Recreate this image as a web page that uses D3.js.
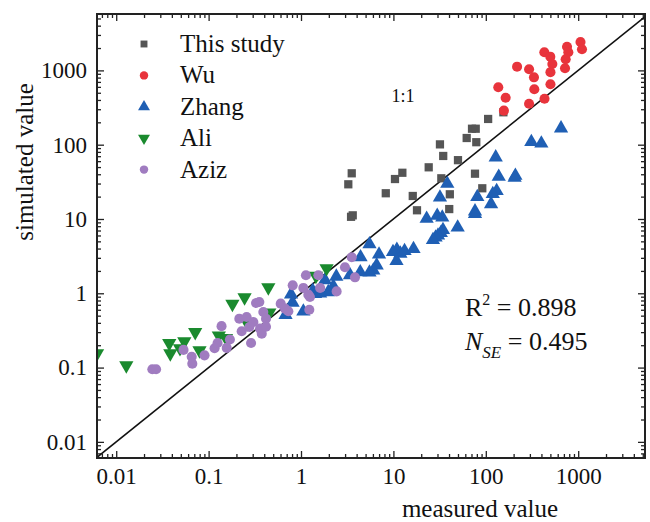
<!DOCTYPE html>
<html><head><meta charset="utf-8">
<script src="https://cdn.jsdelivr.net/npm/d3@7"></script>
<style>body{margin:0;background:#fff}svg{display:block}text{font-family:"Liberation Serif","Times New Roman",serif;fill:#111}</style>
</head><body><svg id="c" width="650" height="522"></svg>
<script>
// ---- data (measured, simulated) ----
const seriesNames = ["This study","Wu","Zhang","Ali","Aziz"];
const thisStudy = [[3.54,41.2],[3.25,29.3],[3.63,11.2],[3.48,10.7],[8.27,22.2],[10.4,34.5],[12.5,41.9],[16.2,20.4],[18.0,13.1],[24.1,49.6],[31.9,101],[34.6,70.5],[33.0,35.3],[40.8,21.5],[40.2,13.6],[50.0,61.9],[62.1,123],[70.9,164],[77.8,164],[78.9,108],[76.4,40.7],[91.6,25.9],[106,222],[155,273]];
const wu = [[136.5,593],[164,429],[157,287],[218,1122],[294,1035],[332,807],[335,557],[294,356],[430,1753],[499,1529],[525,1219],[501,946],[501,650],[432,415],[757,2078],[782,1753],[732,1410],[720,1067],[1059,2411],[1099,1923]];
const zhang = [[652,166],[311,109],[399,104],[128,67.7],[138,37.1],[209,38.3],[205,36.0],[131,23.8],[119,21.7],[114,15.9],[80.9,19.8],[76.4,12.7],[76.4,11.7],[38.3,29.8],[31.9,19.5],[29.8,11.1],[33.8,10.5],[22.9,10.1],[49.6,7.69],[34.4,7.11],[32.6,6.48],[30.4,6.0],[28.6,5.64],[26.8,5.22],[5.51,4.58],[4.41,3.06],[6.99,3.33],[9.9,3.60],[10.9,3.86],[11.9,3.43],[13.2,3.71],[16.5,3.95],[10.8,2.72],[6.59,2.38],[6.06,2.03],[5.51,1.91],[4.38,1.92],[3.39,1.76],[2.41,1.68],[1.82,1.50],[1.97,1.04],[1.61,1.0],[0.78,0.97],[0.81,0.75],[1.06,0.57],[0.68,0.51],[1.34,1.08],[1.42,0.98],[2.24,1.24]];
const ali = [[0.0062,0.155],[0.01286,0.107],[0.0375,0.213],[0.0385,0.155],[0.0546,0.225],[0.0716,0.299],[0.0797,0.170],[0.049,0.182],[0.129,0.270],[0.154,0.250],[0.181,0.718],[0.245,0.878],[0.264,0.392],[0.443,1.20],[0.454,0.548],[1.45,1.71],[1.89,2.17]];
const aziz = [[0.0246,0.0949],[0.0270,0.0949],[0.0535,0.173],[0.0656,0.140],[0.0666,0.113],[0.0903,0.146],[0.116,0.182],[0.125,0.214],[0.138,0.361],[0.170,0.239],[0.157,0.184],[0.228,0.308],[0.215,0.455],[0.258,0.480],[0.305,0.411],[0.276,0.352],[0.288,0.214],[0.360,0.334],[0.376,0.286],[0.354,0.764],[0.326,0.740],[0.391,0.560],[0.418,0.455],[0.418,0.355],[0.603,0.725],[0.671,0.621],[0.729,0.573],[0.813,1.28],[1.13,1.75],[1.20,0.958],[1.25,0.892],[1.23,0.601],[1.06,1.18],[1.54,1.75],[1.61,1.18],[2.43,1.06],[2.99,2.24],[3.54,3.05],[3.84,1.64]];
const tickLabels = ["0.01","0.1","1","10","100","1000"];
const tickValues = [0.01,0.1,1,10,100,1000];
const statR2 = "0.898", statNSE = "0.495";

// ---- layout ----
const L = 97, R = 645, T = 14, B = 458;
const x = d3.scaleLog().domain([Math.pow(10,-2.208), Math.pow(10,3.723)]).range([L,R]);
const y = d3.scaleLog().domain([Math.pow(10,-2.217), Math.pow(10,3.759)]).range([B,T]);
const svg = d3.select("#c");

const colors = ["#555555","#e8343c","#1f5fb4","#1a8a2e","#a07cc0"];
const symbols = [d3.symbolSquare, d3.symbolCircle, d3.symbolTriangle, d3.symbolTriangle, d3.symbolCircle];
const sizes = [68, 80, 88, 88, 80];
const rot = [0,0,0,180,0];
const allSeries = [thisStudy, wu, zhang, ali, aziz];

svg.append("clipPath").attr("id","clip").append("rect").attr("x",L).attr("y",T).attr("width",R-L).attr("height",B-T);

// minor ticks
const minors = [];
for (let e=-3;e<=4;e++) for (let k=2;k<=9;k++) minors.push(k*Math.pow(10,e));
const xMin = minors.filter(v=>v>=x.domain()[0] && v<=x.domain()[1]);
const yMin = minors.filter(v=>v>=y.domain()[0] && v<=y.domain()[1]);
const fmt = v => tickLabels[tickValues.indexOf(v)] ?? "";

function axes(){
  const gB = svg.append("g").attr("transform",`translate(0,${B})`);
  gB.call(d3.axisBottom(x).tickValues(tickValues).tickFormat(fmt).tickSize(-7).tickPadding(10));
  gB.append("g").call(d3.axisBottom(x).tickValues(xMin).tickFormat("").tickSize(-4));
  const gT = svg.append("g").attr("transform",`translate(0,${T})`);
  gT.call(d3.axisTop(x).tickValues(tickValues).tickFormat("").tickSize(-7));
  gT.append("g").call(d3.axisTop(x).tickValues(xMin).tickFormat("").tickSize(-4));
  const gL = svg.append("g").attr("transform",`translate(${L},0)`);
  gL.call(d3.axisLeft(y).tickValues(tickValues).tickFormat(fmt).tickSize(-7).tickPadding(10));
  gL.append("g").call(d3.axisLeft(y).tickValues(yMin).tickFormat("").tickSize(-4));
  const gR = svg.append("g").attr("transform",`translate(${R},0)`);
  gR.call(d3.axisRight(y).tickValues(tickValues).tickFormat("").tickSize(-7));
  gR.append("g").call(d3.axisRight(y).tickValues(yMin).tickFormat("").tickSize(-4));
  svg.selectAll(".domain").remove();
  svg.selectAll(".tick line").attr("stroke","#222").attr("stroke-width",1.3);
  svg.selectAll(".tick text").style("font-size","23px").style("font-family",'"Liberation Serif",serif').attr("fill","#111");
}
axes();

// 1:1 line
svg.append("line").attr("clip-path","url(#clip)")
  .attr("x1",x(0.001)).attr("y1",y(0.001)).attr("x2",x(10000)).attr("y2",y(10000))
  .attr("stroke","#111").attr("stroke-width",1.6);

// points
const pts = svg.append("g").attr("clip-path","url(#clip)");
allSeries.forEach((s,i)=>{
  pts.selectAll(null).data(s).enter().append("path")
    .attr("d", d3.symbol().type(symbols[i]).size(sizes[i]))
    .attr("transform", d=>`translate(${x(d[0])},${y(d[1])}) rotate(${rot[i]})`)
    .attr("fill", colors[i]);
});

// frame
svg.append("rect").attr("x",L).attr("y",T).attr("width",R-L).attr("height",B-T)
  .attr("fill","none").attr("stroke","#222").attr("stroke-width",2);

// legend
const lg = svg.append("g");
seriesNames.forEach((n,i)=>{
  const yy = 44 + i*31.4;
  lg.append("path").attr("d", d3.symbol().type(symbols[i]).size(sizes[i]*0.7))
    .attr("transform",`translate(144,${yy}) rotate(${rot[i]})`).attr("fill",colors[i]);
  lg.append("text").attr("x",180).attr("y",yy+8).style("font-size","25px").text(n);
});

// 1:1 label
svg.append("text").attr("x",403).attr("y",102).attr("text-anchor","middle").style("font-size","18px").text("1:1");

// stats
const t1 = svg.append("text").attr("x",465).attr("y",316).style("font-size","26px");
t1.append("tspan").text("R");
t1.append("tspan").attr("dy",-11).style("font-size","16px").text("2");
t1.append("tspan").attr("dy",11).text(" = " + statR2);
const t2 = svg.append("text").attr("x",465).attr("y",350).style("font-size","26px");
t2.append("tspan").style("font-style","italic").text("N");
t2.append("tspan").attr("dy",8).style("font-size","17px").style("font-style","italic").text("SE");
t2.append("tspan").attr("dy",-8).text(" = " + statNSE);

// axis titles
svg.append("text").attr("x",480).attr("y",517).attr("text-anchor","middle").style("font-size","25px").text("measured value");
svg.append("text").attr("transform","translate(33,162) rotate(-90)").attr("text-anchor","middle").style("font-size","25px").text("simulated value");
</script></body></html>
